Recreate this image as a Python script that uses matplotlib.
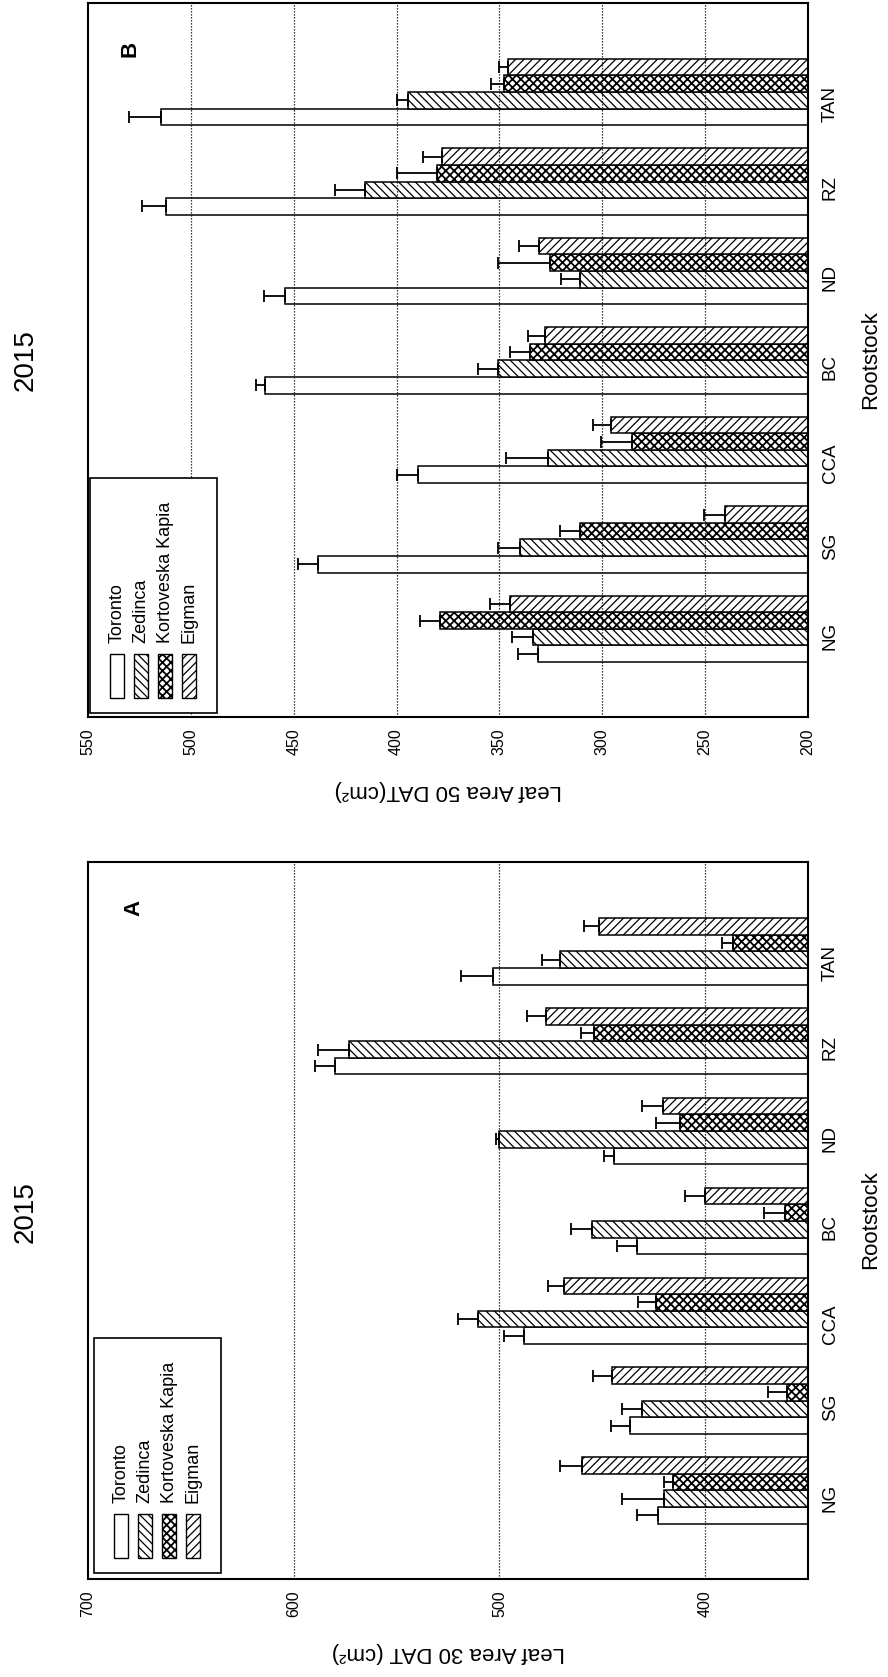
import matplotlib
matplotlib.use("Agg")
import matplotlib.pyplot as plt
from matplotlib.patches import Rectangle
import numpy as np

plt.rcParams["font.family"] = ["Liberation Sans", "DejaVu Sans"]
plt.rcParams["hatch.linewidth"] = 0.9

# ---- data -------------------------------------------------------------
categories = ["NG", "SG", "CCA", "BC", "ND", "RZ", "TAN"]
cultivars = ["Toronto", "Zedinca", "Kortoveska Kapia", "Eigman"]

# Leaf area 30 days after transplanting (cm2), mean and standard error
toronto_30 = [422.8, 436.3, 487.9, 433.3, 444.5, 580.1, 503.0]
toronto_30_se = [10.5, 9.6, 9.7, 9.7, 4.7, 9.7, 15.7]
zedinca_30 = [419.9, 430.5, 510.3, 454.9, 500.2, 573.2, 470.4]
zedinca_30_se = [20.3, 9.7, 9.7, 10.5, 1.5, 15.2, 9.1]
kortoveska_30 = [415.5, 360.4, 423.9, 361.2, 412.0, 453.9, 386.4]
kortoveska_30_se = [4.4, 8.9, 8.6, 10.0, 11.9, 6.3, 5.5]
eigman_30 = [459.7, 445.1, 468.4, 400.0, 420.3, 477.6, 451.4]
eigman_30_se = [10.8, 9.6, 7.8, 9.8, 10.2, 8.8, 7.4]

# Leaf area 50 days after transplanting (cm2), mean and standard error
toronto_50 = [331.1, 438.0, 389.4, 464.0, 454.4, 512.0, 514.7]
toronto_50_se = [9.7, 9.8, 10.6, 4.1, 10.2, 11.8, 15.2]
zedinca_50 = [333.8, 339.9, 326.2, 350.5, 310.8, 415.5, 394.3]
zedinca_50_se = [9.9, 10.6, 20.4, 9.8, 9.4, 14.5, 5.7]
kortoveska_50 = [379.0, 310.8, 285.7, 335.1, 325.4, 380.5, 347.6]
kortoveska_50_se = [9.6, 9.7, 15.1, 9.8, 25.1, 19.3, 6.6]
eigman_50 = [344.9, 240.3, 295.9, 328.0, 331.0, 377.7, 345.6]
eigman_50_se = [9.7, 10.3, 8.7, 7.9, 9.7, 9.6, 4.6]

ticks_30 = [700, 600, 500, 400]
ticks_50 = [550, 500, 450, 400, 350, 300, 250, 200]

# ---- figure -----------------------------------------------------------
W, H = 888, 1677
fig = plt.figure(figsize=(W / 100, H / 100), dpi=100)
fig.patch.set_facecolor("white")


def fx(px):
    return px / W


def fy(py):
    return 1 - py / H


hatches = ["", "\\\\\\\\", "xxxx", "////"]
hatch_widths = [0.9, 0.9, 1.3, 0.9]
BAR_H = 0.185


def set_hatch_width(patch, width):
    if hasattr(patch, "set_hatch_linewidth"):
        patch.set_hatch_linewidth(width)


def draw_panel(ax, series, errors, lo, hi, ticks):
    pos = np.arange(len(categories))
    for i, (vals, errs, hatch) in enumerate(zip(series, errors, hatches)):
        vals = np.asarray(vals, dtype=float)
        errs = np.asarray(errs, dtype=float)
        y = pos + (i - 1.5) * BAR_H
        bars = ax.barh(y, vals - lo, left=lo, height=BAR_H, color="white",
                       edgecolor="black", linewidth=1.1, hatch=hatch, zorder=2)
        for b in bars:
            set_hatch_width(b, hatch_widths[i])
        ax.errorbar(vals, y, xerr=[np.zeros_like(errs), errs], fmt="none",
                    ecolor="black", elinewidth=1.3, capsize=4.5,
                    capthick=1.3, zorder=3)
    for g in ticks:
        if lo < g < hi:
            ax.axvline(g, color="black", lw=0.9, ls=(0, (1, 1.4)), zorder=4)
    ax.set_xlim(hi, lo)
    ax.set_ylim(-0.985, 6.995)
    ax.set_xticks(ticks)
    ax.set_xticklabels([str(t) for t in ticks])
    ax.set_yticks(pos)
    ax.set_yticklabels(categories)
    ax.yaxis.tick_right()
    ax.tick_params(axis="x", length=0, pad=8, labelsize=11.5, labelrotation=90)
    ax.tick_params(axis="y", length=0, pad=10, labelsize=13.5, labelrotation=90)
    for s in ax.spines.values():
        s.set_linewidth(1.5)


def draw_legend(box_left, box_bottom):
    fig.add_artist(Rectangle((fx(box_left), fy(box_bottom)), 127 / W, 235 / H,
                             transform=fig.transFigure, facecolor="white",
                             edgecolor="black", lw=1.2, zorder=5))
    for i, (name, hatch) in enumerate(zip(cultivars, hatches)):
        cx = box_left + 27 + 24 * i
        sw = Rectangle((fx(cx - 7), fy(box_bottom - 15)), 14 / W, 44 / H,
                       transform=fig.transFigure, facecolor="white",
                       edgecolor="black", lw=1.0, hatch=hatch, zorder=6)
        set_hatch_width(sw, hatch_widths[i])
        fig.add_artist(sw)
        fig.text(fx(cx), fy(box_bottom - 70), name, rotation=90, ha="center",
                 va="bottom", fontsize=13, zorder=7)


# Panel B (50 DAT), upper half
axB = fig.add_axes([fx(88), fy(717), 720 / W, 714 / H])
draw_panel(axB, [toronto_50, zedinca_50, kortoveska_50, eigman_50],
           [toronto_50_se, zedinca_50_se, kortoveska_50_se, eigman_50_se],
           200, 550, ticks_50)
draw_legend(90, 713)
fig.text(fx(130), fy(49), "B", rotation=90, ha="center", va="center",
         fontsize=16, fontweight="bold")
fig.text(fx(26), fy(360), "2015", rotation=90, ha="center", va="center", fontsize=20)
fig.text(fx(871), fy(360), "Rootstock", rotation=90, ha="center", va="center", fontsize=16)
fig.text(fx(448), fy(790), "Leaf Area 50 DAT(cm²)", rotation=180, ha="center",
         va="center", fontsize=16)

# Panel A (30 DAT), lower half
axA = fig.add_axes([fx(88), fy(1579), 720 / W, 717 / H])
draw_panel(axA, [toronto_30, zedinca_30, kortoveska_30, eigman_30],
           [toronto_30_se, zedinca_30_se, kortoveska_30_se, eigman_30_se],
           350, 700, ticks_30)
draw_legend(94, 1573)
fig.text(fx(134), fy(908), "A", rotation=90, ha="center", va="center",
         fontsize=16, fontweight="bold")
fig.text(fx(26), fy(1212), "2015", rotation=90, ha="center", va="center", fontsize=20)
fig.text(fx(871), fy(1220), "Rootstock", rotation=90, ha="center", va="center", fontsize=16)
fig.text(fx(448), fy(1652), "Leaf Area 30 DAT (cm²)", rotation=180, ha="center",
         va="center", fontsize=16)

fig.savefig("out.png", dpi=100, facecolor="white")
